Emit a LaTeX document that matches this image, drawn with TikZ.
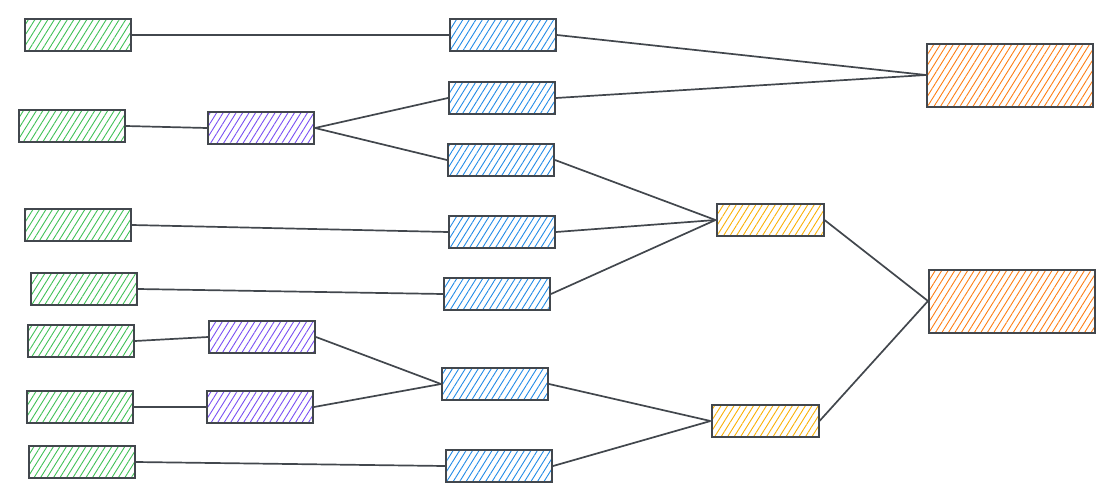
\documentclass[tikz,border=0pt]{standalone}
\usepackage{xcolor}
\definecolor{inkGray}{RGB}{66,71,77}
\definecolor{hatchGreen}{RGB}{64,192,87}
\definecolor{hatchBlue}{RGB}{34,139,230}
\definecolor{hatchViolet}{RGB}{121,80,242}
\definecolor{hatchYellow}{RGB}{250,176,5}
\definecolor{hatchOrange}{RGB}{253,126,20}
\usetikzlibrary{patterns.meta}

\begin{document}
\begin{tikzpicture}[x=1pt,y=-1pt,
    box/.style={draw=inkGray,line width=2pt,minimum width=106pt,
                minimum height=32pt,inner sep=0pt,
                pattern={Lines[angle=58,distance=5.5pt,line width=0.9pt]}},
    srcbox/.style={box,pattern color=hatchGreen},
    midbox/.style={box,pattern color=hatchViolet},
    svcbox/.style={box,pattern color=hatchBlue},
    aggbox/.style={box,minimum width=107pt,pattern color=hatchYellow},
    sinkbox/.style={box,minimum width=166pt,minimum height=63pt,pattern color=hatchOrange},
    link/.style={draw=inkGray,line width=1.7pt},
  ]
    \useasboundingbox (0,0) rectangle (1114,501);

    % Sources
    \node[srcbox] (src1) at (78,35)  {};
    \node[srcbox] (src2) at (72,126) {};
    \node[srcbox] (src3) at (78,225) {};
    \node[srcbox] (src4) at (84,289) {};
    \node[srcbox] (src5) at (81,341) {};
    \node[srcbox] (src6) at (80,407) {};
    \node[srcbox] (src7) at (82,462) {};

    % Intermediate
    \node[midbox] (mid1) at (261,128) {};
    \node[midbox] (mid2) at (262,337) {};
    \node[midbox] (mid3) at (260,407) {};

    % Services
    \node[svcbox] (svc1) at (503,35)  {};
    \node[svcbox] (svc2) at (502,98)  {};
    \node[svcbox] (svc3) at (501,160) {};
    \node[svcbox] (svc4) at (502,232) {};
    \node[svcbox] (svc5) at (497,294) {};
    \node[svcbox] (svc6) at (495,384) {};
    \node[svcbox] (svc7) at (499,466) {};

    % Aggregators
    \node[aggbox] (agg1) at (770,220) {};
    \node[aggbox] (agg2) at (765,421) {};

    % Outputs
    \node[sinkbox] (sink1) at (1010,75)  {};
    \node[sinkbox] (sink2) at (1012,301) {};

    % Links
    \draw[link] (src1.east) -- (svc1.west);
    \draw[link] (src2.east) -- (mid1.west);
    \draw[link] (mid1.east) -- (svc2.west);
    \draw[link] (mid1.east) -- (svc3.west);
    \draw[link] (src3.east) -- (svc4.west);
    \draw[link] (src4.east) -- (svc5.west);
    \draw[link] (src5.east) -- (mid2.west);
    \draw[link] (src6.east) -- (mid3.west);
    \draw[link] (mid2.east) -- (svc6.west);
    \draw[link] (mid3.east) -- (svc6.west);
    \draw[link] (src7.east) -- (svc7.west);

    \draw[link] (svc1.east) -- (sink1.west);
    \draw[link] (svc2.east) -- (sink1.west);
    \draw[link] (svc3.east) -- (agg1.west);
    \draw[link] (svc4.east) -- (agg1.west);
    \draw[link] (svc5.east) -- (agg1.west);
    \draw[link] (svc6.east) -- (agg2.west);
    \draw[link] (svc7.east) -- (agg2.west);

    \draw[link] (agg1.east) -- (sink2.west);
    \draw[link] (agg2.east) -- (sink2.west);

  \end{tikzpicture}
\end{document}
